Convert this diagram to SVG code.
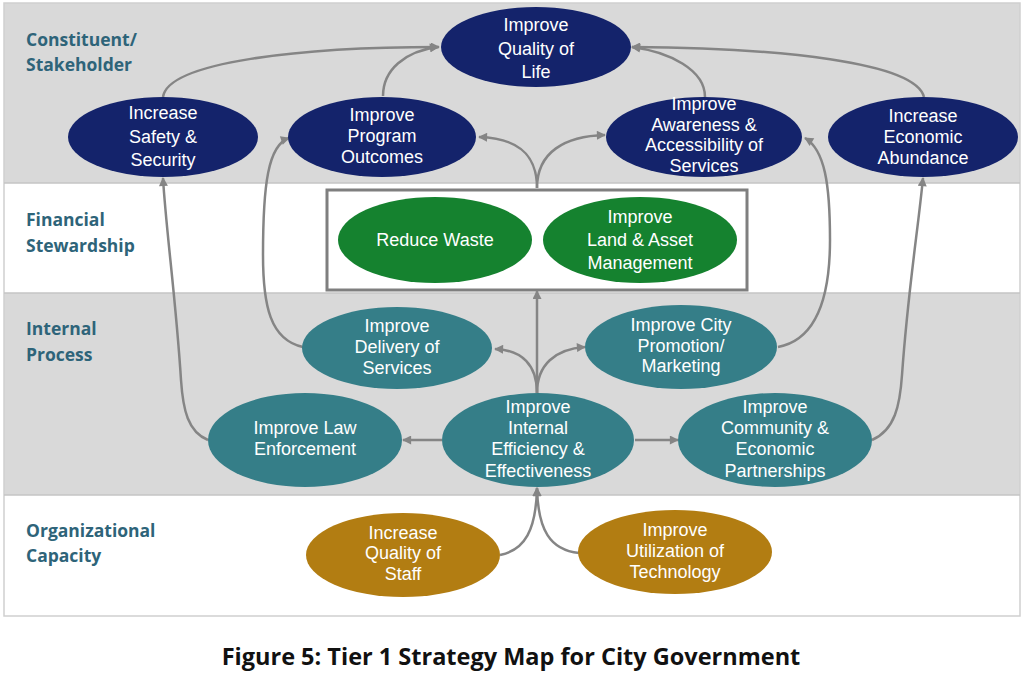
<svg xmlns="http://www.w3.org/2000/svg" width="1024" height="690" viewBox="0 0 1024 690">
<defs>
<style>
.lane{font-family:"Open Sans","Liberation Sans",sans-serif;font-weight:700;font-size:17.5px;fill:#2e6479}
.nt{font-family:"Liberation Sans",Arial,sans-serif;font-size:18px;fill:#ffffff;text-anchor:middle}
.navy{fill:#14236b}
.green{fill:#15822f}
.teal{fill:#357e88}
.gold{fill:#b27d12}
.c{fill:none;stroke:#858585;stroke-width:2.5}
.cap{font-family:"Open Sans","Liberation Sans",sans-serif;font-weight:700;font-size:23.5px;fill:#111;text-anchor:middle}
</style>
<marker id="ah" viewBox="0 0 10 10" refX="9" refY="5" markerWidth="10" markerHeight="9" markerUnits="userSpaceOnUse" orient="auto">
<path d="M0,0 L10,5 L0,10 z" fill="#858585"/>
</marker>
</defs>
<rect x="0" y="0" width="1024" height="690" fill="#ffffff"/>
<g id="lanes">
<rect x="4" y="3" width="1016" height="180" fill="#d9d9d9"/>
<rect x="4" y="183" width="1016" height="110" fill="#ffffff"/>
<rect x="4" y="293" width="1016" height="202" fill="#d9d9d9"/>
<rect x="4" y="495" width="1016" height="121" fill="#ffffff"/>
<rect x="4" y="3" width="1016" height="613" fill="none" stroke="#cfcfcf" stroke-width="1.5"/>
<line x1="4" y1="183" x2="1020" y2="183" stroke="#c4c4c4" stroke-width="1.5"/>
<line x1="4" y1="293" x2="1020" y2="293" stroke="#c4c4c4" stroke-width="1.5"/>
<line x1="4" y1="495" x2="1020" y2="495" stroke="#c4c4c4" stroke-width="1.5"/>
<text class="lane" x="26" y="46">Constituent/</text>
<text class="lane" x="26" y="71">Stakeholder</text>
<text class="lane" x="26" y="226">Financial</text>
<text class="lane" x="26" y="252">Stewardship</text>
<text class="lane" x="26" y="335">Internal</text>
<text class="lane" x="26" y="361">Process</text>
<text class="lane" x="26" y="537">Organizational</text>
<text class="lane" x="26" y="562">Capacity</text>
</g>
<g id="fin-box">
<rect x="327" y="190" width="420" height="100" fill="#ffffff" stroke="#7f7f7f" stroke-width="3"/>
</g>
<g id="connectors">
<path class="c" marker-end="url(#ah)" d="M163,97 C168,62 300,47 439,47"/>
<path class="c" marker-end="url(#ah)" d="M383,96 C383,70 405,51 438,47"/>
<path class="c" marker-end="url(#ah)" d="M705,97 C705,70 670,52 632,47"/>
<path class="c" marker-end="url(#ah)" d="M924,97 C915,62 780,48 632,47"/>
<path class="c" marker-end="url(#ah)" d="M537,188 C537,152 515,138 479,137"/>
<path class="c" marker-end="url(#ah)" d="M537,188 C537,152 565,136 605,135"/>
<path class="c" marker-end="url(#ah)" d="M537,393 L537,291"/>
<path class="c" marker-end="url(#ah)" d="M537,393 C537,365 522,350 495,349"/>
<path class="c" marker-end="url(#ah)" d="M537,393 C537,365 555,349 585,347"/>
<path class="c" marker-end="url(#ah)" d="M303,347 C270,340 263,305 263,255 C263,185 268,145 289,138"/>
<path class="c" marker-end="url(#ah)" d="M208,440 C188,432 183,410 181,380 C176,300 166,230 163,178"/>
<path class="c" marker-end="url(#ah)" d="M778,347 C815,340 830,300 830,240 C830,185 825,150 805,138"/>
<path class="c" marker-end="url(#ah)" d="M872,440 C895,430 900,405 902,375 C908,290 918,230 923,178"/>
<path class="c" marker-end="url(#ah)" d="M442,440 L403,440"/>
<path class="c" marker-end="url(#ah)" d="M635,440 L678,440"/>
<path class="c" marker-end="url(#ah)" d="M500,555 C525,550 536,530 537,488"/>
<path class="c" marker-end="url(#ah)" d="M579,553 C550,550 538,530 537,488"/>
</g>
<g id="n-qol">
<ellipse class="navy" cx="536" cy="47" rx="95" ry="40"/>
<text class="nt" x="536" y="31">Improve</text>
<text class="nt" x="536" y="55">Quality of</text>
<text class="nt" x="536" y="78">Life</text>
</g>
<g id="n-safety">
<ellipse class="navy" cx="163" cy="137" rx="95" ry="40"/>
<text class="nt" x="163" y="119">Increase</text>
<text class="nt" x="163" y="143">Safety &amp;</text>
<text class="nt" x="163" y="166">Security</text>
</g>
<g id="n-program">
<ellipse class="navy" cx="382" cy="137" rx="94" ry="40"/>
<text class="nt" x="382" y="121">Improve</text>
<text class="nt" x="382" y="142">Program</text>
<text class="nt" x="382" y="163">Outcomes</text>
</g>
<g id="n-awareness">
<ellipse class="navy" cx="704" cy="137" rx="98" ry="40"/>
<text class="nt" x="704" y="110">Improve</text>
<text class="nt" x="704" y="130.5">Awareness &amp;</text>
<text class="nt" x="704" y="151">Accessibility of</text>
<text class="nt" x="704" y="171.5">Services</text>
</g>
<g id="n-economic">
<ellipse class="navy" cx="923" cy="137" rx="95" ry="40"/>
<text class="nt" x="923" y="122">Increase</text>
<text class="nt" x="923" y="142.5">Economic</text>
<text class="nt" x="923" y="163.5">Abundance</text>
</g>
<g id="n-waste">
<ellipse class="green" cx="435" cy="240" rx="97" ry="43"/>
<text class="nt" x="435" y="246">Reduce Waste</text>
</g>
<g id="n-land">
<ellipse class="green" cx="640" cy="240" rx="97" ry="43"/>
<text class="nt" x="640" y="223">Improve</text>
<text class="nt" x="640" y="246">Land &amp; Asset</text>
<text class="nt" x="640" y="269">Management</text>
</g>
<g id="n-delivery">
<ellipse class="teal" cx="397" cy="348" rx="95" ry="41"/>
<text class="nt" x="397" y="332">Improve</text>
<text class="nt" x="397" y="353">Delivery of</text>
<text class="nt" x="397" y="374">Services</text>
</g>
<g id="n-promotion">
<ellipse class="teal" cx="681" cy="347" rx="96" ry="42"/>
<text class="nt" x="681" y="331">Improve City</text>
<text class="nt" x="681" y="351.5">Promotion/</text>
<text class="nt" x="681" y="372">Marketing</text>
</g>
<g id="n-law">
<ellipse class="teal" cx="305" cy="440" rx="97" ry="47"/>
<text class="nt" x="305" y="434">Improve Law</text>
<text class="nt" x="305" y="455">Enforcement</text>
</g>
<g id="n-efficiency">
<ellipse class="teal" cx="538" cy="440" rx="96" ry="47"/>
<text class="nt" x="538" y="413">Improve</text>
<text class="nt" x="538" y="434">Internal</text>
<text class="nt" x="538" y="455">Efficiency &amp;</text>
<text class="nt" x="538" y="477">Effectiveness</text>
</g>
<g id="n-community">
<ellipse class="teal" cx="775" cy="440" rx="97" ry="47"/>
<text class="nt" x="775" y="413">Improve</text>
<text class="nt" x="775" y="434">Community &amp;</text>
<text class="nt" x="775" y="455">Economic</text>
<text class="nt" x="775" y="477">Partnerships</text>
</g>
<g id="n-staff">
<ellipse class="gold" cx="403" cy="555" rx="97" ry="42"/>
<text class="nt" x="403" y="538.5">Increase</text>
<text class="nt" x="403" y="559">Quality of</text>
<text class="nt" x="403" y="579.5">Staff</text>
</g>
<g id="n-tech">
<ellipse class="gold" cx="675" cy="552" rx="97" ry="42"/>
<text class="nt" x="675" y="536">Improve</text>
<text class="nt" x="675" y="557">Utilization of</text>
<text class="nt" x="675" y="578">Technology</text>
</g>
<text class="cap" x="511" y="665">Figure 5: Tier 1 Strategy Map for City Government</text>
</svg>
